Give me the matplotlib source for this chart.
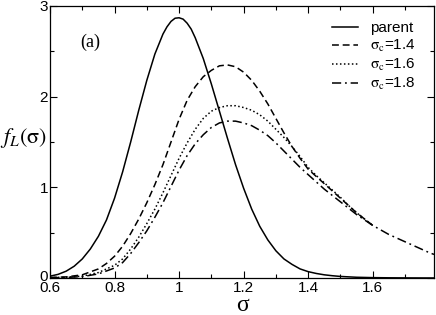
import numpy as np
import matplotlib
matplotlib.use('Agg')
import matplotlib.pyplot as plt
import matplotlib.transforms as mtransforms

plt.rcParams['font.family'] = ['Liberation Sans', 'DejaVu Sans']
plt.rcParams['mathtext.fontset'] = 'stix'

# parent distribution
sig_p = [0.600, 0.625, 0.650, 0.675, 0.700, 0.725, 0.750, 0.775, 0.800, 0.825,
         0.850, 0.875, 0.900, 0.925, 0.950, 0.9625, 0.975, 0.9875, 1.000, 1.0125,
         1.025, 1.0375, 1.050, 1.075, 1.100, 1.125, 1.150, 1.175, 1.200, 1.225,
         1.250, 1.275, 1.300, 1.325, 1.350, 1.375, 1.400, 1.425, 1.450, 1.475,
         1.500, 1.550, 1.600, 1.650, 1.700, 1.790]
f_p = [0.02, 0.04, 0.075, 0.13, 0.21, 0.32, 0.46, 0.64, 0.88, 1.17,
       1.50, 1.85, 2.18, 2.47, 2.69, 2.77, 2.83, 2.865, 2.87, 2.855,
       2.81, 2.745, 2.65, 2.42, 2.14, 1.84, 1.54, 1.25, 0.99, 0.76,
       0.57, 0.42, 0.30, 0.21, 0.15, 0.10, 0.07, 0.05, 0.035, 0.025,
       0.017, 0.008, 0.004, 0.002, 0.001, 0.0]

# sigma_c = 1.4
sig_14 = [0.600, 0.650, 0.700, 0.750, 0.775, 0.800, 0.825, 0.850, 0.875, 0.900,
          0.925, 0.950, 0.975, 1.000, 1.025, 1.050, 1.075, 1.100, 1.125, 1.150,
          1.175, 1.200, 1.225, 1.250, 1.275, 1.300, 1.325, 1.350, 1.375, 1.400,
          1.425, 1.450, 1.475, 1.500, 1.525, 1.550, 1.575, 1.600]
f_14 = [0.005, 0.012, 0.035, 0.10, 0.16, 0.24, 0.35, 0.49, 0.65, 0.83,
        1.03, 1.25, 1.50, 1.75, 1.96, 2.11, 2.22, 2.29, 2.34, 2.35,
        2.33, 2.27, 2.18, 2.06, 1.92, 1.76, 1.60, 1.45, 1.32, 1.20,
        1.12, 1.04, 0.96, 0.88, 0.80, 0.72, 0.65, 0.58]

# sigma_c = 1.6
sig_16 = [0.600, 0.650, 0.700, 0.750, 0.800, 0.825, 0.850, 0.875, 0.900, 0.925,
          0.950, 0.975, 1.000, 1.025, 1.050, 1.075, 1.100, 1.125, 1.150, 1.175,
          1.200, 1.225, 1.250, 1.275, 1.300, 1.325, 1.350, 1.375, 1.400, 1.425,
          1.450, 1.475, 1.500, 1.525, 1.550, 1.575, 1.600]
f_16 = [0.003, 0.008, 0.02, 0.06, 0.14, 0.21, 0.32, 0.45, 0.60, 0.76,
        0.94, 1.13, 1.32, 1.49, 1.64, 1.76, 1.84, 1.88, 1.90, 1.90,
        1.88, 1.85, 1.80, 1.73, 1.64, 1.55, 1.45, 1.34, 1.22, 1.13,
        1.05, 0.97, 0.89, 0.80, 0.72, 0.65, 0.58]

# sigma_c = 1.8
sig_18 = [0.600, 0.650, 0.700, 0.750, 0.800, 0.825, 0.850, 0.875, 0.900, 0.925,
          0.950, 0.975, 1.000, 1.025, 1.050, 1.075, 1.100, 1.125, 1.150, 1.175,
          1.200, 1.225, 1.250, 1.275, 1.300, 1.325, 1.350, 1.375, 1.400, 1.425,
          1.450, 1.475, 1.500, 1.525, 1.550, 1.575, 1.600, 1.625, 1.650, 1.675,
          1.700, 1.725, 1.750, 1.775, 1.790]
f_18 = [0.003, 0.006, 0.015, 0.045, 0.11, 0.17, 0.27, 0.39, 0.52, 0.67,
        0.83, 1.01, 1.19, 1.35, 1.48, 1.58, 1.66, 1.71, 1.73, 1.73,
        1.71, 1.68, 1.63, 1.57, 1.49, 1.40, 1.31, 1.22, 1.14, 1.06,
        0.98, 0.91, 0.84, 0.77, 0.70, 0.64, 0.58, 0.53, 0.48, 0.44,
        0.40, 0.36, 0.32, 0.28, 0.26]

fig = plt.figure(figsize=(4.36, 3.15), dpi=100)
ax = fig.add_axes([0.1147, 0.1175, 0.8807, 0.8635])

lw = 1.1
ax.plot(sig_p, f_p, color='black', lw=lw, ls='-', label='parent')
ax.plot(sig_14, f_14, color='black', lw=lw, ls=(0, (4.5, 2.5)),
        label=r'$\mathrm{\sigma}_\mathrm{c}$=1.4')
ax.plot(sig_16, f_16, color='black', lw=lw, ls=(0, (1, 1.6)),
        label=r'$\mathrm{\sigma}_\mathrm{c}$=1.6')
ax.plot(sig_18, f_18, color='black', lw=lw, ls=(0, (6, 2.5, 1.2, 2.5)),
        label=r'$\mathrm{\sigma}_\mathrm{c}$=1.8')

ax.set_xlim(0.6, 1.79)
ax.set_ylim(0, 3)
ax.set_xticks([0.6, 0.8, 1.0, 1.2, 1.4, 1.6])
ax.set_xticklabels(['0.6', '0.8', '1', '1.2', '1.4', '1.6'])
ax.set_xticks(np.arange(0.7, 1.79, 0.2), minor=True)
ax.set_yticks([0, 1, 2, 3])
ax.set_yticklabels(['0', '1', '2', '3'])
ax.set_yticks([0.5, 1.5, 2.5], minor=True)
ax.tick_params(which='both', direction='in', top=True, right=True, width=0.8,
               labelsize=11, pad=1.5)
ax.tick_params(axis='x', which='major', pad=2.5)
ax.tick_params(which='major', length=5)
ax.tick_params(which='minor', length=3)
for s in ax.spines.values():
    s.set_linewidth(0.9)

# nudge the "0" label up a little so it clears "0.6"
lab0 = ax.get_yticklabels()[0]
lab0.set_transform(lab0.get_transform() +
                   mtransforms.ScaledTranslation(0, 2 / 72, fig.dpi_scale_trans))

ax.set_xlabel('σ', fontsize=17, labelpad=0, family='Liberation Serif')
ax.set_ylabel(r'$f_L(\mathrm{\sigma})$', fontsize=16, rotation=0, labelpad=4)
ax.yaxis.set_label_coords(-0.068, 0.47)
ax.text(0.08, 0.868, '(a)', transform=ax.transAxes, fontsize=13,
        va='center', family='Liberation Serif')

ax.legend(loc='upper right', frameon=False, fontsize=11, handlelength=1.7,
          handletextpad=0.8, labelspacing=0.2, borderaxespad=0.4,
          bbox_to_anchor=(0.985, 0.99))

fig.savefig('out.png', dpi=100)
